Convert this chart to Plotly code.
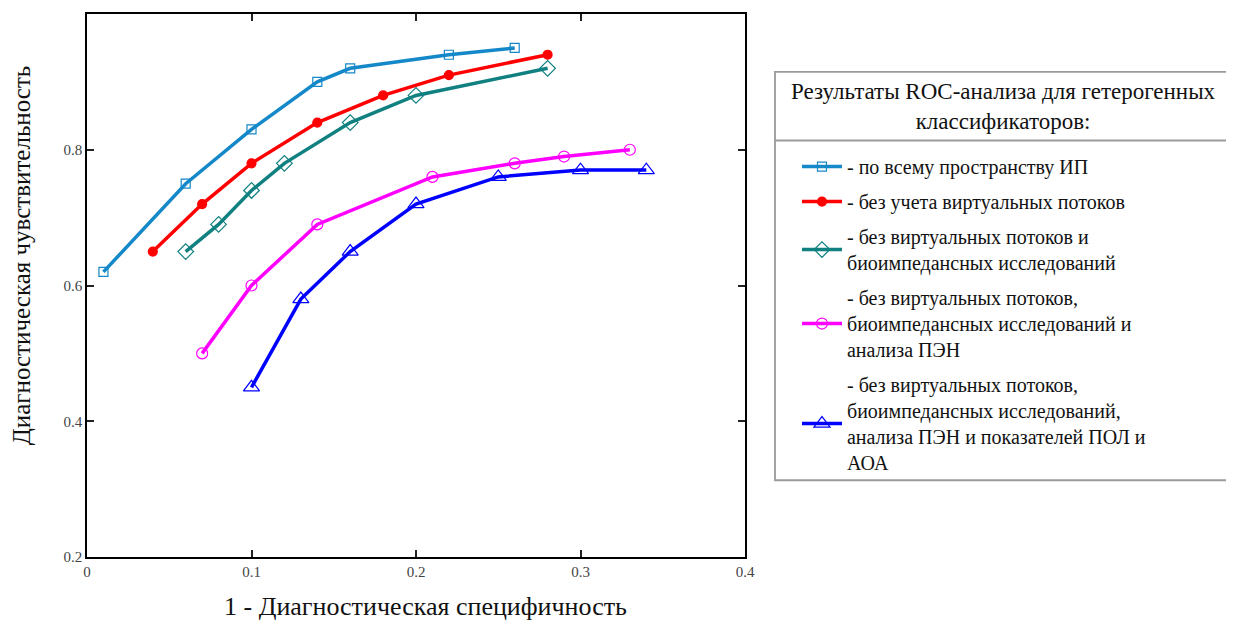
import plotly.graph_objects as go

# ---- data ----
x_full = [0.01, 0.06, 0.10, 0.14, 0.16, 0.22, 0.26]
y_full = [0.62, 0.75, 0.83, 0.90, 0.92, 0.94, 0.95]

x_novirt = [0.04, 0.07, 0.10, 0.14, 0.18, 0.22, 0.28]
y_novirt = [0.65, 0.72, 0.78, 0.84, 0.88, 0.91, 0.94]

x_nobio = [0.06, 0.08, 0.10, 0.12, 0.16, 0.20, 0.28]
y_nobio = [0.65, 0.69, 0.74, 0.78, 0.84, 0.88, 0.92]

x_nopen = [0.07, 0.10, 0.14, 0.21, 0.26, 0.29, 0.33]
y_nopen = [0.50, 0.60, 0.69, 0.76, 0.78, 0.79, 0.80]

x_nopol = [0.10, 0.13, 0.16, 0.20, 0.25, 0.30, 0.34]
y_nopol = [0.45, 0.58, 0.65, 0.72, 0.76, 0.77, 0.77]

names = [
    "- по всему пространству ИП",
    "- без учета виртуальных потоков",
    "- без виртуальных потоков и<br>биоимпедансных исследований",
    "- без виртуальных потоков,<br>биоимпедансных исследований и<br>анализа ПЭН",
    "- без виртуальных потоков,<br>биоимпедансных исследований,<br>анализа ПЭН и показателей ПОЛ и<br>АОА",
]
legend_title = "Результаты ROC-анализа для гетерогенных<br>классификаторов:"
x_ticks = [0, 0.1, 0.2, 0.3, 0.4]
x_ticklabels = ["0", "0.1", "0.2", "0.3", "0.4"]
y_ticks = [0.2, 0.4, 0.6, 0.8]
y_ticklabels = ["0.2", "0.4", "0.6", "0.8"]

FONT = "Liberation Serif"

series = [
    (x_full, y_full, "#1488c8", "square-open", 9, 3.5),
    (x_novirt, y_novirt, "#ff0000", "circle", 9, 3.5),
    (x_nobio, y_nobio, "#108080", "diamond-open", 12, 3.5),
    (x_nopen, y_nopen, "#ff00ff", "circle-open", 11, 3.5),
    (x_nopol, y_nopol, "#0000ff", "triangle-up-open", 14, 3.5),
]

fig = go.Figure()
for i, ((xs, ys, col, sym, ms, lw), nm) in enumerate(zip(series, names)):
    fig.add_trace(go.Scatter(
        x=xs, y=ys, mode="lines+markers", name=nm, legendgroup=str(i),
        line=dict(color=col, width=lw),
        marker=dict(symbol=sym, size=ms, color=col, line=dict(color=col, width=1.2)),
    ))

axis_common = dict(
    showline=True, linecolor="black", linewidth=1.5, mirror="ticks",
    ticks="inside", ticklen=7, tickwidth=1.5, tickcolor="#222",
    showgrid=False, zeroline=False,
    tickfont=dict(family=FONT, size=15, color="#444"),
)
fig.update_xaxes(range=[0, 0.4], tickvals=x_ticks, ticktext=x_ticklabels, **axis_common)
fig.update_yaxes(range=[0.2, 1.0], tickvals=y_ticks, ticktext=y_ticklabels, **axis_common)

BOX = "#9a9a9a"
fig.update_layout(
    width=1234, height=625,
    margin=dict(l=79, r=497, t=4, b=76),
    plot_bgcolor="white", paper_bgcolor="white",
    font=dict(family=FONT, color="#111"),
    legend=dict(
        x=1.079, y=0.755, xanchor="left", yanchor="top",
        bgcolor="rgba(0,0,0,0)", borderwidth=0,
        font=dict(family=FONT, size=20, color="#111"),
        tracegroupgap=6, itemwidth=40,
    ),
    annotations=[
        dict(text="1 - Диагностическая специфичность", xref="paper", yref="paper",
             x=0.515, y=-0.092, xanchor="center", yanchor="middle", showarrow=False,
             font=dict(family=FONT, size=26, color="#111")),
        dict(text="Диагностическая чувствительность", xref="paper", yref="paper",
             x=-0.1003, y=0.554, xanchor="center", yanchor="middle", showarrow=False,
             textangle=-90, font=dict(family=FONT, size=25, color="#111")),
        dict(text=legend_title, xref="paper", yref="paper",
             x=1.3936, y=0.8294, xanchor="center", yanchor="middle", showarrow=False,
             align="center", font=dict(family=FONT, size=23, color="#111")),
    ],
    shapes=[
        dict(type="rect", xref="paper", yref="paper", x0=1.0456, x1=1.7416, y0=0.1413, y1=0.8936,
             line=dict(color=BOX, width=1.8), fillcolor="rgba(0,0,0,0)"),
        dict(type="line", xref="paper", yref="paper", x0=1.0456, x1=1.7416, y0=0.767, y1=0.767,
             line=dict(color=BOX, width=1.8)),
    ],
)

fig.write_html("out.html")
